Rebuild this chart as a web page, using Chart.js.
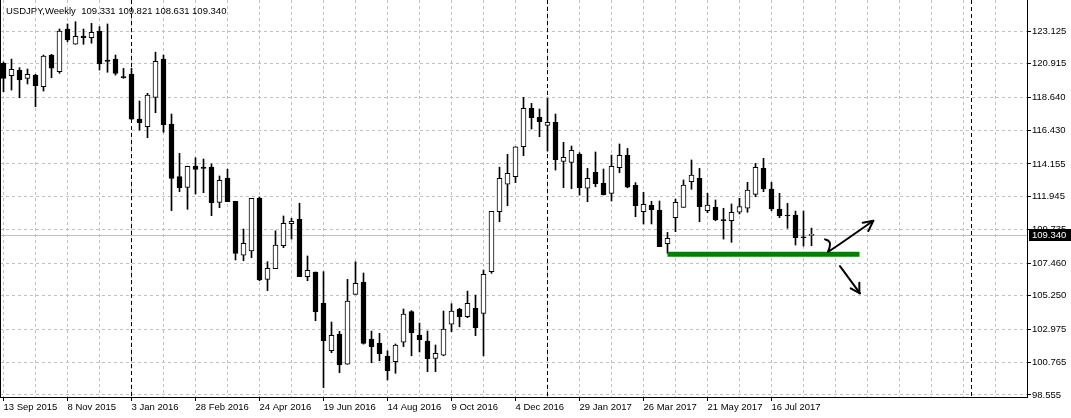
<!DOCTYPE html>
<html>
<head>
<meta charset="utf-8">
<title>USDJPY, Weekly</title>
<script src="https://cdn.jsdelivr.net/npm/chart.js@4.4.1/dist/chart.umd.min.js"></script>
<style>
  html, body { margin: 0; padding: 0; background: #fff; }
  #wrap { width: 1071px; height: 418px; }
</style>
</head>
<body>
<div id="wrap"><canvas id="chart" width="1071" height="418"></canvas></div>
<script>
// --- weekly candles, 13 Sep 2015 .. 20 Aug 2017 ---
const opens = [
  120.94, 120.11, 120.49, 119.93, 120.15, 119.37, 121.50, 120.38, 123.26, 122.23,
  122.79, 122.67, 123.12, 121.17, 121.23, 120.05, 120.22, 117.18, 116.67, 118.65,
  121.23, 116.85, 113.30, 112.57, 114.00, 113.94, 113.94, 111.56, 113.20, 111.63,
  108.00, 108.28, 111.83, 106.36, 107.08, 108.63, 110.12, 110.41, 106.54, 106.86,
  104.74, 101.54, 102.67, 100.63, 105.35, 106.18, 102.33, 102.04, 101.19, 100.80,
  102.12, 104.18, 102.60, 102.20, 101.03, 101.25, 103.33, 104.36, 103.84, 104.41,
  104.07, 106.88, 110.93, 112.78, 113.29, 115.31, 117.91, 117.30, 116.76, 116.96,
  114.33, 114.26, 114.80, 112.51, 113.58, 112.84, 112.17, 113.90, 114.73, 112.71,
  110.93, 111.36, 111.04, 108.77, 110.52, 111.22, 112.95, 113.18, 110.99, 111.22,
  110.39, 110.32, 110.89, 111.16, 112.10, 113.85, 112.46, 111.11, 110.69, 110.70,
  109.22, 109.331
];
const highs = [
  121.03, 121.23, 120.65, 120.56, 120.20, 121.50, 121.55, 123.26, 123.60, 123.75,
  123.26, 123.64, 123.42, 123.60, 121.50, 120.60, 120.60, 118.40, 118.92, 121.70,
  121.50, 117.52, 114.87, 114.00, 114.57, 114.48, 114.15, 113.34, 113.80, 111.63,
  109.76, 111.83, 111.90, 107.55, 109.64, 110.64, 110.48, 111.50, 107.94, 106.86,
  106.88, 103.48, 102.85, 106.36, 107.55, 106.79, 102.87, 102.72, 101.53, 102.00,
  104.36, 104.25, 103.41, 102.87, 101.93, 104.22, 104.72, 104.41, 105.57, 105.30,
  106.99, 110.95, 113.93, 114.80, 115.31, 118.65, 118.24, 117.86, 118.58, 117.52,
  115.61, 115.36, 114.91, 113.85, 114.96, 113.81, 114.75, 115.50, 115.20, 112.89,
  112.24, 111.63, 111.65, 109.53, 111.78, 113.07, 114.42, 113.85, 112.17, 111.72,
  111.16, 111.45, 111.83, 112.91, 114.19, 114.53, 112.91, 112.17, 111.49, 110.97,
  110.97, 109.821
];
const lows = [
  119.03, 119.14, 118.62, 119.55, 118.02, 119.07, 119.97, 120.27, 122.40, 122.23,
  122.23, 122.30, 120.49, 120.34, 120.15, 119.93, 117.15, 116.44, 115.92, 117.61,
  116.29, 111.00, 112.28, 111.09, 112.12, 112.21, 110.66, 111.20, 111.60, 107.67,
  107.62, 107.82, 106.27, 105.60, 107.08, 108.50, 109.08, 106.54, 106.27, 103.57,
  99.05, 101.41, 100.06, 100.63, 105.35, 101.99, 100.73, 100.87, 99.57, 100.02,
  101.82, 101.20, 101.46, 100.13, 100.13, 101.20, 102.83, 103.16, 103.77, 102.56,
  101.20, 106.77, 110.25, 111.33, 112.89, 114.71, 116.51, 115.99, 115.02, 113.74,
  112.55, 112.48, 112.05, 111.60, 112.61, 112.05, 111.65, 113.56, 112.54, 110.59,
  110.10, 110.10, 108.57, 108.12, 109.58, 111.22, 112.44, 110.25, 110.86, 110.32,
  109.08, 108.86, 110.77, 110.89, 111.94, 112.28, 110.99, 110.52, 109.81, 108.68,
  108.61, 108.631
];
const closes = [
  119.93, 120.54, 119.82, 120.20, 119.43, 121.44, 120.61, 123.12, 122.52, 122.77,
  122.67, 123.04, 120.90, 121.07, 120.27, 119.98, 117.18, 116.93, 118.80, 121.08,
  116.80, 113.18, 112.55, 113.99, 113.78, 113.85, 111.53, 113.05, 111.60, 108.12,
  108.79, 111.83, 106.32, 107.10, 108.68, 110.14, 110.28, 106.54, 106.97, 104.18,
  102.22, 102.58, 100.60, 104.90, 106.09, 102.04, 101.81, 101.34, 100.19, 101.93,
  104.02, 102.76, 102.29, 101.00, 101.37, 103.01, 104.22, 103.84, 104.74, 103.10,
  106.70, 110.95, 113.18, 113.52, 115.31, 117.91, 117.27, 117.00, 116.96, 114.44,
  114.60, 115.07, 112.55, 113.18, 112.82, 112.08, 113.99, 114.73, 112.59, 111.33,
  111.43, 111.06, 108.57, 109.13, 111.56, 112.73, 113.40, 111.27, 111.38, 110.37,
  110.32, 110.89, 111.27, 112.39, 113.92, 112.46, 111.11, 110.66, 110.64, 109.17,
  109.17, 109.340
];

// time axis labels, one every 8 bars
const tickLabels = [
  '13 Sep 2015', '8 Nov 2015', '3 Jan 2016', '28 Feb 2016', '24 Apr 2016',
  '19 Jun 2016', '14 Aug 2016', '9 Oct 2016', '4 Dec 2016', '29 Jan 2017',
  '26 Mar 2017', '21 May 2017', '16 Jul 2017'
];
const yTickValues = [98.555, 100.765, 102.975, 105.250, 107.460, 109.735,
  111.945, 114.155, 116.430, 118.640, 120.915, 123.125];
const yearSeparators = [16, 68, 121];   // first bar of 2016, 2017, 2018

// hand drawn objects (bar index, price)
const supportLine = [[83, 108.06], [107, 108.06]];
const upArrowPath = [[102.69, 109.06], [103.1, 108.97], [103.31, 108.79], [103.23, 108.46], [103.1, 108.23], [108.73, 110.32]];
const upArrowHead = [[107.4, 110.18], [108.73, 110.32], [108.1, 109.62]];
const downArrowPath = [[104.56, 107.26], [107.06, 105.42]];
const downArrowHead = [[105.9, 105.76], [107.06, 105.42], [106.98, 106.13]];

const symbolName = 'USDJPY,Weekly';
const last = opens.length - 1;
const bidPrice = closes[last];

const FONT = { family: '"Liberation Sans", Arial, sans-serif', size: 9.5 };

const labelFor = (v) => (v % 8 === 0 && tickLabels[v / 8]) || '';
const toPoints = (arr) => arr.map(p => ({ x: p[0], y: p[1] }));

const wickData = opens.map((_, i) => ({ x: i, y: [lows[i], highs[i]] }));
const bodyData = opens.map((_, i) => ({ x: i, y: [opens[i], closes[i]] }));

function arrowDataset(points, tension) {
  return {
    type: 'line',
    data: toPoints(points),
    borderColor: '#000',
    borderWidth: 2,
    pointRadius: 0,
    tension: tension || 0,
    borderCapStyle: 'round',
    borderJoinStyle: 'round',
    order: 0
  };
}

// --- extra MT4 bits: bid line, period separators, frame, header, price tag ---
const mtOverlay = {
  id: 'mtOverlay',
  beforeDatasetsDraw(chart) {
    const { ctx, chartArea: a, scales: { x, y } } = chart;
    ctx.save();
    ctx.lineWidth = 1;

    const by = Math.floor(y.getPixelForValue(bidPrice)) + 0.5;
    ctx.strokeStyle = '#c0c0c0';
    ctx.beginPath();
    ctx.moveTo(a.left, by);
    ctx.lineTo(a.right, by);
    ctx.stroke();

    ctx.strokeStyle = '#000';
    ctx.setLineDash([4, 3]);
    yearSeparators.forEach(i => {
      const px = Math.floor(x.getPixelForValue(i)) + 0.5;
      ctx.beginPath();
      ctx.moveTo(px, a.top);
      ctx.lineTo(px, a.bottom);
      ctx.stroke();
    });
    ctx.restore();
  },
  afterDraw(chart) {
    const { ctx, chartArea: a, scales: { y } } = chart;
    ctx.save();
    // left frame edge
    ctx.strokeStyle = '#000';
    ctx.lineWidth = 1;
    ctx.beginPath();
    ctx.moveTo(a.left + 0.5, a.top);
    ctx.lineTo(a.left + 0.5, a.bottom);
    ctx.stroke();

    ctx.font = FONT.size + 'px ' + FONT.family;
    ctx.textBaseline = 'middle';
    ctx.textAlign = 'left';

    // header
    const header = symbolName + '  ' + [opens[last], highs[last], lows[last], closes[last]]
      .map(v => v.toFixed(3)).join(' ');
    ctx.fillStyle = '#000';
    ctx.fillText(header, 6, 11);

    // current price tag on the axis
    const by = Math.floor(y.getPixelForValue(bidPrice)) + 0.5;
    ctx.fillStyle = '#000';
    ctx.fillRect(a.right + 2, by - 6.5, chart.width - a.right - 2, 12);
    ctx.fillStyle = '#fff';
    ctx.fillText(bidPrice.toFixed(3), a.right + 5, by);
    ctx.restore();
  }
};

Chart.defaults.font.family = FONT.family;
Chart.defaults.font.size = FONT.size;
Chart.defaults.color = '#000';

new Chart(document.getElementById('chart'), {
  type: 'bar',
  data: {
    datasets: [
      {
        label: 'body',
        data: bodyData,
        grouped: false,
        barThickness: 5,
        minBarLength: 1,
        borderWidth: 1,
        borderSkipped: false,
        borderColor: '#000',
        backgroundColor: (ctx) => closes[ctx.dataIndex] >= opens[ctx.dataIndex] ? '#fff' : '#000',
        order: 2
      },
      {
        label: 'wick',
        data: wickData,
        grouped: false,
        barThickness: 1,
        borderWidth: 0,
        backgroundColor: '#000',
        order: 3
      },
      {
        type: 'line',
        label: 'support',
        data: toPoints(supportLine),
        borderColor: '#008000',
        borderWidth: 5,
        borderCapStyle: 'butt',
        pointRadius: 0,
        order: 1
      },
      arrowDataset(upArrowPath, 0.3),
      arrowDataset(upArrowHead),
      arrowDataset(downArrowPath),
      arrowDataset(downArrowHead)
    ]
  },
  options: {
    responsive: false,
    animation: false,
    devicePixelRatio: 1,
    layout: { padding: 0 },
    plugins: {
      legend: { display: false },
      tooltip: { enabled: false }
    },
    scales: {
      x: {
        type: 'linear',
        min: -0.4375,
        max: 127.9375,
        offset: false,
        grid: {
          offset: false,
          color: '#c0c0c0',
          tickLength: 4,
          tickColor: (ctx) => (ctx.tick && labelFor(ctx.tick.value)) ? '#000' : 'rgba(0,0,0,0)'
        },
        border: { display: true, color: '#000', dash: [3, 3] },
        ticks: {
          autoSkip: false,
          maxRotation: 0,
          align: 'start',
          padding: 1,
          callback: (v) => labelFor(v)
        },
        afterBuildTicks: (s) => {
          const t = [];
          for (let i = 0; i <= 124; i += 4) t.push({ value: i });
          s.ticks = t;
        },
        afterFit: (s) => {
          s.height = 21;
          s.paddingLeft = 0;
          s.paddingRight = 0;
        }
      },
      y: {
        type: 'linear',
        position: 'right',
        min: 98.42,
        max: 125.2175,
        grid: { color: '#c0c0c0', tickLength: 4, tickColor: '#000' },
        border: { display: true, color: '#000', dash: [3, 3] },
        ticks: {
          autoSkip: false,
          padding: 1,
          callback: (v) => Number(v).toFixed(3)
        },
        afterBuildTicks: (s) => {
          s.ticks = yTickValues.map(v => ({ value: v }));
        },
        afterFit: (s) => {
          s.width = 44;
          s.paddingTop = 0;
          s.paddingBottom = 0;
        }
      }
    }
  },
  plugins: [mtOverlay]
});
</script>
</body>
</html>
